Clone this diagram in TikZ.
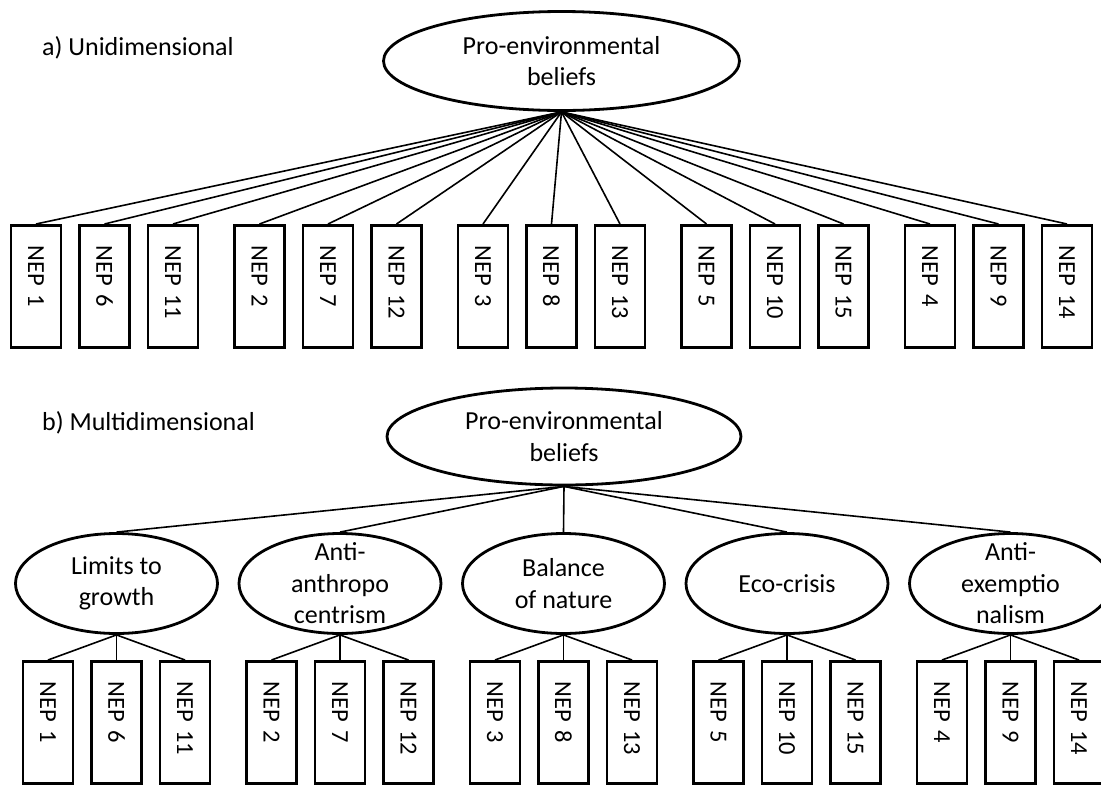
\documentclass[tikz,border=0pt]{standalone}
\usepackage{fontspec}
\setmainfont{Carlito}
\usetikzlibrary{shapes.geometric}

\begin{document}
\begin{tikzpicture}[x=1pt, y=-1pt,
    latent/.style={ellipse, draw, line width=2.8pt, inner sep=-30pt, align=center,
        font=\fontsize{26}{31.5}\selectfont},
    item/.style={draw, line width=2.8pt, rotate=-90, anchor=west, minimum width=122pt,
        minimum height=50pt, inner xsep=20pt, inner ysep=0pt, text width=82pt,
        align=left, font=\fontsize{24.5}{29}\selectfont},
    link/.style={line width=1.6pt},
    title/.style={anchor=base west, inner sep=0pt, font=\fontsize{26}{31}\selectfont}]

    \useasboundingbox (0,0) rectangle (1101,785);

    % a) Unidimensional model
    \node[title] (ta) at (42,55) {a) Unidimensional};
    \node[latent, minimum width=356pt, minimum height=99pt] (pa) at (561.5,61)
        {Pro-environmental\\beliefs};
    \foreach \g/\b in {0/1, 1/2, 2/3, 3/5, 4/4} {
        \foreach \k in {0, 1, 2} {
            \pgfmathtruncatemacro{\n}{\b+5*\k}
            \node[item] (a\n) at ({36+223.5*\g+68.5*\k},224) {NEP \n};
            \draw[link] (pa.south) -- (a\n.west);
        }
    }

    % b) Multidimensional model
    \node[title] (tb) at (42,430) {b) Multidimensional};
    \node[latent, minimum width=354pt, minimum height=97pt] (pb) at (564,436.5)
        {Pro-environmental\\beliefs};
    \foreach \g/\b/\lbl in {0/1/{Limits to\\growth}, 1/2/{Anti-\\anthropo\\centrism},
            2/3/{Balance\\of nature}, 3/5/{Eco-crisis}, 4/4/{Anti-\\exemptio\\nalism}} {
        \node[latent, minimum width=202pt, minimum height=100pt] (f\g)
            at ({116.5+223.5*\g},583.5) {\lbl};
        \draw[link] (pb.south) -- (f\g.north);
        \foreach \k in {0, 1, 2} {
            \pgfmathtruncatemacro{\n}{\b+5*\k}
            \node[item] (b\n) at ({48+223.5*\g+68.5*\k},660) {NEP \n};
            \draw[link] (f\g.south) -- (b\n.west);
        }
    }
\end{tikzpicture}
\end{document}
